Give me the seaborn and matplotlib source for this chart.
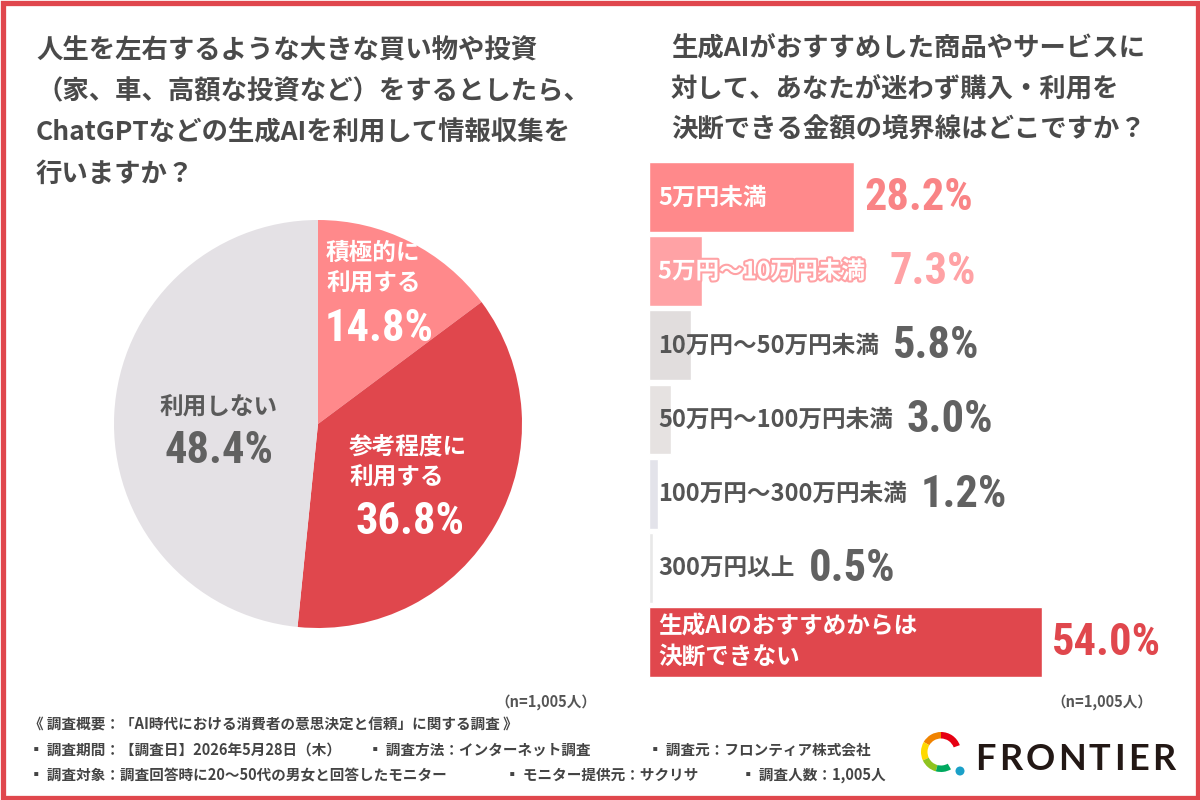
import matplotlib
matplotlib.use('Agg')
import matplotlib.pyplot as plt
import matplotlib.patheffects as pe
from matplotlib.patches import Rectangle, Wedge, Circle
import seaborn as sns
import pandas as pd

# Data
pie_labels = ['積極的に\n利用する', '参考程度に\n利用する', '利用しない']
pie_values = [14.8, 36.8, 48.4]
pie_colors = ['#FF898B', '#E0474D', '#E4E1E5']

bar_labels = ['5万円未満', '5万円〜10万円未満', '10万円〜50万円未満', '50万円〜100万円未満',
              '100万円〜300万円未満', '300万円以上', '生成AIのおすすめからは\n決断できない']
bar_values = [28.2, 7.3, 5.8, 3.0, 1.2, 0.5, 54.0]
bar_colors = ['#FF898B', '#FFA2A5', '#E1DDDD', '#E6E2E1', '#E3E3EA', '#E8E8E8', '#E0474D']
label_colors = ['white', 'white', '#555555', '#555555', '#555555', '#555555', 'white']
value_colors = ['#F98486', '#FFA2A5', '#616161', '#616161', '#616161', '#616161', '#E0474D']

title_left = ['人生を左右するような大きな買い物や投資',
              '（家、車、高額な投資など）をするとしたら、',
              'ChatGPTなどの生成AIを利用して情報収集を',
              '行いますか？']
title_right = ['生成AIがおすすめした商品やサービスに',
               '対して、あなたが迷わず購入・利用を',
               '決断できる金額の境界線はどこですか？']
n_label = '（n=1,005人）'
footer = [
    [(29, '《 調査概要：「AI時代における消費者の意思決定と信頼」に関する調査 》')],
    [(29, '▪ 調査期間：【調査日】2026年5月28日（木）'), (368, '▪ 調査方法：インターネット調査'),
     (648, '▪ 調査元：フロンティア株式会社')],
    [(29, '▪ 調査対象：調査回答時に20〜50代の男女と回答したモニター'), (505, '▪ モニター提供元：サクリサ'),
     (741, '▪ 調査人数：1,005人')],
]

RED = '#E0474D'
TXT = '#4A4A4A'
NUM_FONT = ['Roboto Condensed', 'Roboto', 'DejaVu Sans']
NUM_SIZE = 32

sns.set_theme(style='white')
plt.rcParams['font.family'] = ['Noto Sans CJK JP', 'DejaVu Sans']

fig = plt.figure(figsize=(12, 8), dpi=100)
fig.patch.set_facecolor('white')

# Pie
pax = fig.add_axes([(318 - 204) / 1200, (800 - 424 - 204) / 800, 408 / 1200, 408 / 800])
pax.pie(pie_values, colors=pie_colors, startangle=90, counterclock=False,
        wedgeprops=dict(linewidth=0))
pax.set_xlim(-1, 1)
pax.set_ylim(-1, 1)

# Bars
px_per_pct = 7.28
bax = fig.add_axes([649 / 1200, (800 - 678.7) / 800, 551 / 1200, 518.4 / 800])
df = pd.DataFrame({'label': bar_labels, 'value': bar_values})
sns.barplot(data=df, x='value', y='label', hue='label', palette=bar_colors, width=0.945,
            saturation=1, legend=False, orient='h', ax=bax)
bax.set_xlim(0, 551 / px_per_pct)
bax.set_ylim(6.5, -0.5)
bax.axis('off')

# overlay layer in pixel coords (on top, transparent)
bg = fig.add_axes([0, 0, 1, 1])
bg.set_xlim(0, 1200)
bg.set_ylim(800, 0)
bg.axis('off')
bg.set_zorder(5)
bg.add_patch(Rectangle((2.5, 2.5), 1195, 795, fill=False, edgecolor=RED, linewidth=3.8))

for i, line in enumerate(title_left):
    bg.text(36, 51 + i * 41, line, fontsize=19, fontweight='bold', color=TXT, va='center')
for i, line in enumerate(title_right):
    bg.text(671, 48 + i * 41, line, fontsize=19, fontweight='bold', color=TXT, va='center')

bg.text(326, 268, pie_labels[0], fontsize=17, fontweight='bold', color='white', va='center',
        linespacing=1.35)
bg.text(325, 329, f'{pie_values[0]:.1f}%', fontsize=NUM_SIZE, fontweight='bold', color='white',
        va='center', family=NUM_FONT)
bg.text(349, 462, pie_labels[1], fontsize=17, fontweight='bold', color='white', va='center',
        linespacing=1.35)
bg.text(410, 522, f'{pie_values[1]:.1f}%', fontsize=NUM_SIZE, fontweight='bold', color='white',
        va='center', ha='center', family=NUM_FONT)
bg.text(219, 408, pie_labels[2], fontsize=17, fontweight='bold', color='#5A5A5A', va='center',
        ha='center')
bg.text(219, 451, f'{pie_values[2]:.1f}%', fontsize=NUM_SIZE, fontweight='bold', color='#616161',
        va='center', ha='center', family=NUM_FONT)

label_texts = []
for i, lab in enumerate(bar_labels):
    t = bax.annotate(lab, xy=(0, i), xytext=(9, 0), textcoords='offset pixels', va='center',
                     ha='left', fontsize=17, fontweight='bold', color=label_colors[i],
                     linespacing=1.35)
    if i == 1:
        t.set_path_effects([pe.withStroke(linewidth=3, foreground='#FFA2A5')])
    label_texts.append(t)

fig.canvas.draw()
renderer = fig.canvas.get_renderer()
for i, v in enumerate(bar_values):
    bb = label_texts[i].get_window_extent(renderer)
    bar_end = bax.transData.transform((v, i))[0]
    gap = 24 if i == 1 else 14
    dx = max(10, bb.x1 + gap - bar_end)
    bax.annotate(f'{v:.1f}%', xy=(v, i), xytext=(dx, -1), textcoords='offset pixels',
                 va='center', ha='left', fontsize=NUM_SIZE, fontweight='bold',
                 color=value_colors[i], family=NUM_FONT)

# sample size notes
bg.text(596, 702, n_label, fontsize=10.5, fontweight='bold', color='#555555', ha='right',
        va='center')
bg.text(1152, 702, n_label, fontsize=10.5, fontweight='bold', color='#555555', ha='right',
        va='center')

# footer
for r, row in enumerate(footer):
    for x, s in row:
        bg.text(x, 724 + r * 25.5, s, fontsize=10.5, fontweight='bold', color='#444444',
                va='center')

# logo
ring = [(20, 90, '#E60012'), (90, 150, '#F08300'), (150, 205, '#FFD900'),
        (205, 255, '#8FC31F'), (255, 300, '#00A95F')]
for a1, a2, c in ring:
    bg.add_patch(Wedge((941, 752), 20, -a2, -a1, width=6.5, facecolor=c, edgecolor='none'))
bg.add_patch(Circle((960, 771), 4.5, facecolor='#1BA0C8', edgecolor='none'))
x = 975
for ch in 'FRONTIER':
    t = bg.text(x, 759, ch, fontsize=26, fontweight='bold', color='#231815', va='center',
                family=['Lato', 'DejaVu Sans'])
    x += t.get_window_extent(renderer).width + 3.3

fig.savefig('out.png', dpi=100)
